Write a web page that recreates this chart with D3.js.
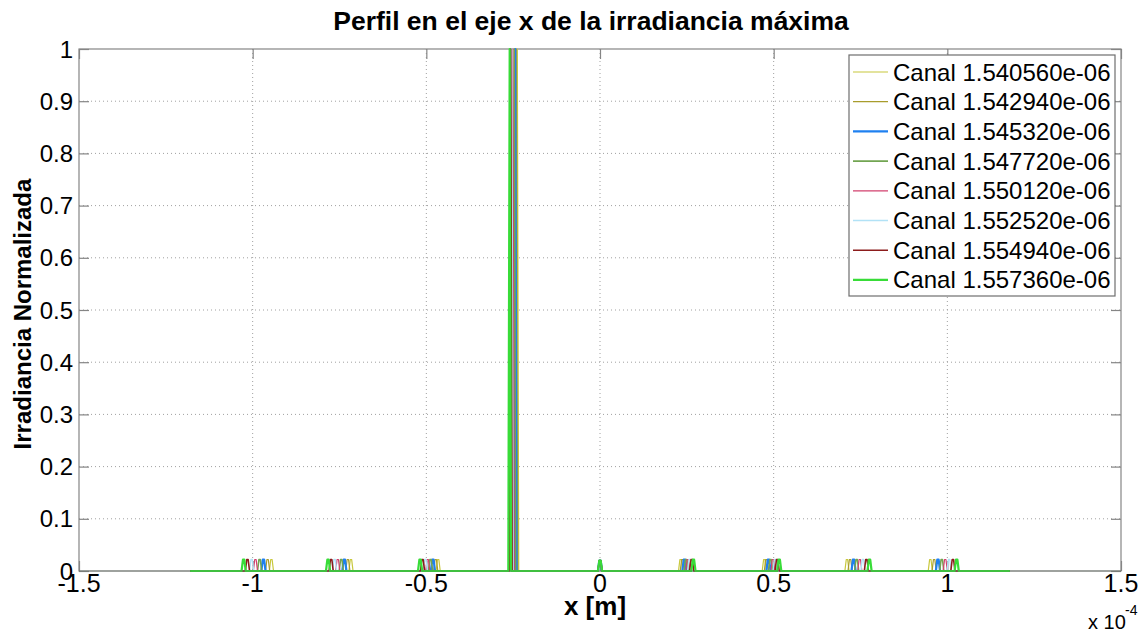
<!DOCTYPE html>
<html><head><meta charset="utf-8">
<script src="https://cdn.jsdelivr.net/npm/d3@7/dist/d3.min.js"></script>
<style>body{margin:0;background:#fff} text{font-family:"Liberation Sans",Arial,sans-serif;fill:#000}</style>
</head><body><svg id="c" width="1140" height="633"></svg>
<script>
// ---------------- DATA (x in units of 1e-4 m) ----------------
const channels = ["Canal 1.540560e-06","Canal 1.542940e-06","Canal 1.545320e-06","Canal 1.547720e-06",
                  "Canal 1.550120e-06","Canal 1.552520e-06","Canal 1.554940e-06","Canal 1.557360e-06"];
const xStart = -1.18, xEnd = 1.18;
const peakHeights = [0.022, 0.022, 0.022, 1.0, 0.02, 0.022, 0.022, 0.022, 0.022];
const peaks_ch1 = [-0.946, -0.717, -0.466, -0.238, 0, 0.232, 0.473, 0.711, 0.951];
const peaks_ch2 = [-0.957, -0.726, -0.473, -0.241, 0, 0.237, 0.479, 0.720, 0.962];
const peaks_ch3 = [-0.969, -0.736, -0.481, -0.244, 0, 0.243, 0.485, 0.730, 0.973];
const peaks_ch4 = [-0.980, -0.745, -0.488, -0.247, 0, 0.248, 0.491, 0.739, 0.984];
const peaks_ch5 = [-0.992, -0.755, -0.496, -0.251, 0, 0.253, 0.498, 0.748, 0.994];
const peaks_ch6 = [-1.003, -0.764, -0.503, -0.254, 0, 0.258, 0.504, 0.757, 1.005];
const peaks_ch7 = [-1.015, -0.774, -0.511, -0.257, 0, 0.264, 0.510, 0.767, 1.016];
const peaks_ch8 = [-1.026, -0.783, -0.518, -0.260, 0, 0.269, 0.516, 0.776, 1.027];
const channelPeaks = [peaks_ch1, peaks_ch2, peaks_ch3, peaks_ch4, peaks_ch5, peaks_ch6, peaks_ch7, peaks_ch8];
const xTicks = [-1.5, -1, -0.5, 0, 0.5, 1, 1.5];
const xTickLabels = ["-1.5", "-1", "-0.5", "0", "0.5", "1", "1.5"];
const yTicks = [0, 0.1, 0.2, 0.3, 0.4, 0.5, 0.6, 0.7, 0.8, 0.9, 1];
const yTickLabels = ["0", "0.1", "0.2", "0.3", "0.4", "0.5", "0.6", "0.7", "0.8", "0.9", "1"];

// ---------------- STYLE ----------------
const colors = ["#c8c83c", "#a89c2c", "#1f80f0", "#72a552", "#d2406e", "#b2e2f6", "#8c1c1c", "#38dc38"];
const widths = [1.2, 1.2, 2.2, 1.6, 1.2, 1.4, 1.6, 2.2];
const bumpBase = 0.006, bumpTop = 0.002, mainBase = 0.004;
const L = 79, R = 1121, T = 49, B = 571;
const axisColor = "#858585";

const svg = d3.select("#c");
const x = d3.scaleLinear().domain([-1.5, 1.5]).range([L, R]);
const y = d3.scaleLinear().domain([0, 1]).range([B, T]);

// grid
const g = svg.append("g");
g.selectAll(".gx").data(xTicks.slice(1, -1)).join("line")
  .attr("x1", d => x(d)).attr("x2", d => x(d)).attr("y1", T).attr("y2", B)
  .attr("stroke", "#a0a0a0").attr("stroke-width", 1).attr("stroke-dasharray", "1,3");
g.selectAll(".gy").data(yTicks.slice(1, -1)).join("line")
  .attr("x1", L).attr("x2", R).attr("y1", d => y(d)).attr("y2", d => y(d))
  .attr("stroke", "#a0a0a0").attr("stroke-width", 1).attr("stroke-dasharray", "1,3");

// axes box + ticks
const ax = svg.append("g");
ax.append("rect").attr("x", L).attr("y", T).attr("width", R - L).attr("height", B - T)
  .attr("fill", "none").attr("stroke", axisColor).attr("stroke-width", 1.2);
const bottomAxis = d3.axisBottom(x).tickValues(xTicks).tickSize(-10).tickFormat(() => "");
const leftAxis = d3.axisLeft(y).tickValues(yTicks).tickSize(-10).tickFormat(() => "");
const topAxis = d3.axisTop(x).tickValues(xTicks).tickSize(-10).tickFormat(() => "");
const rightAxis = d3.axisRight(y).tickValues(yTicks).tickSize(-10).tickFormat(() => "");
[[bottomAxis, `translate(0,${B})`], [leftAxis, `translate(${L},0)`], [topAxis, `translate(0,${T})`], [rightAxis, `translate(${R},0)`]]
  .forEach(([a, t]) => {
    const gg = ax.append("g").attr("transform", t).call(a);
    gg.select(".domain").remove();
    gg.selectAll("line").attr("stroke", axisColor).attr("stroke-width", 1.2);
  });

// data lines
function seriesPoints(peaks) {
  const pts = [[xStart, 0]];
  peaks.forEach((c, i) => {
    const h = peakHeights[i];
    if (h > 0.5) {
      pts.push([c - mainBase, 0], [c, h], [c + mainBase, 0]);
    } else {
      pts.push([c - bumpBase, 0], [c - bumpTop, h], [c + bumpTop, h], [c + bumpBase, 0]);
    }
  });
  pts.push([xEnd, 0]);
  return pts;
}
const line = d3.line().x(d => x(d[0])).y(d => y(d[1]));
svg.append("g").selectAll("path").data(channelPeaks).join("path")
  .attr("d", d => line(seriesPoints(d)))
  .attr("fill", "none")
  .attr("stroke", (d, i) => colors[i])
  .attr("stroke-width", (d, i) => widths[i])
  .attr("stroke-linejoin", "round");

// bottom axis line over data (blend)
svg.append("line").attr("x1", L).attr("x2", R).attr("y1", B).attr("y2", B)
  .attr("stroke", "#5a6a5a").attr("stroke-opacity", 0.5).attr("stroke-width", 1);

// tick labels
svg.append("g").selectAll("text").data(xTicks).join("text")
  .attr("x", d => x(d)).attr("y", 592).attr("text-anchor", "middle")
  .attr("font-size", 25).text((d, i) => xTickLabels[i]);
svg.append("g").selectAll("text").data(yTicks).join("text")
  .attr("x", 73).attr("y", d => y(d) + 8.5).attr("text-anchor", "end")
  .attr("font-size", 24).text((d, i) => yTickLabels[i]);

// exponent
svg.append("text").attr("x", 1088).attr("y", 629).attr("font-size", 20).text("x 10");
svg.append("text").attr("x", 1125).attr("y", 615).attr("font-size", 14).text("-4");

// titles
svg.append("text").attr("x", 591).attr("y", 30).attr("text-anchor", "middle")
  .attr("font-size", 26.5).attr("font-weight", "bold").text("Perfil en el eje x de la irradiancia máxima");
svg.append("text").attr("x", 595).attr("y", 615).attr("text-anchor", "middle")
  .attr("font-size", 26).attr("font-weight", "bold").text("x [m]");
svg.append("text").attr("transform", "translate(31,314) rotate(-90)").attr("text-anchor", "middle")
  .attr("font-size", 24).attr("font-weight", "bold").text("Irradiancia Normalizada");

// legend
const lg = svg.append("g");
lg.append("rect").attr("x", 849).attr("y", 55).attr("width", 266).attr("height", 241)
  .attr("fill", "#fff").attr("stroke", "#6e6e6e").attr("stroke-width", 1.2);
const rows = lg.selectAll("g").data(channels).join("g")
  .attr("transform", (d, i) => `translate(0,${72 + i * 29.7})`);
rows.append("line").attr("x1", 853).attr("x2", 888).attr("y1", 0).attr("y2", 0)
  .attr("stroke", (d, i) => colors[i]).attr("stroke-width", (d, i) => widths[i]);
rows.append("text").attr("x", 893).attr("y", 8.5).attr("font-size", 24).text(d => d);
</script></body></html>
